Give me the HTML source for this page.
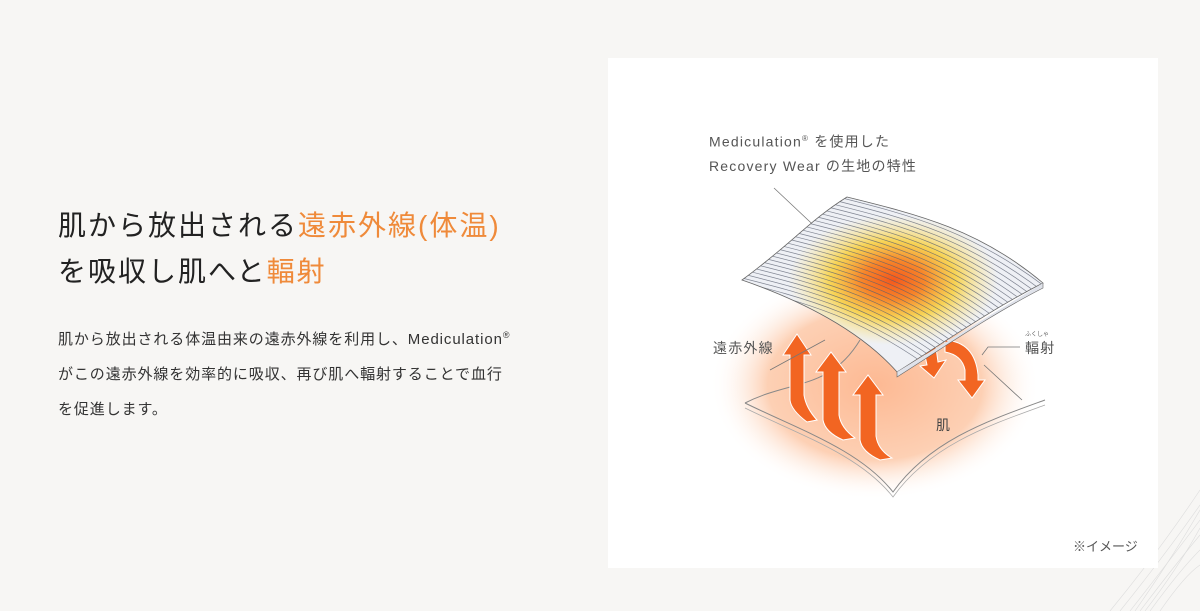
<!DOCTYPE html>
<html><head><meta charset="utf-8"><style>
html,body{margin:0;padding:0}
body{width:1200px;height:611px;background:#f7f6f4;position:relative;overflow:hidden;font-family:"Liberation Sans","Noto Sans CJK JP",sans-serif;color:#222}
.h{position:absolute;left:58px;top:203px;font-size:28px;line-height:46px;letter-spacing:2px;color:#222}
.o{color:#ef8a3a}
.p{position:absolute;left:58px;top:318px;font-size:15px;line-height:35px;color:#333;letter-spacing:0.9px}
.panel{position:absolute;left:608px;top:58px;width:550px;height:510px;background:#fff}
.lab{position:absolute;font-size:14px;color:#555;letter-spacing:1.2px;line-height:24px}
</style></head><body>
<div class="h">肌から放出される<span class="o">遠赤外線(体温)</span><br>を吸収し肌へと<span class="o">輻射</span></div>
<div class="p">肌から放出される体温由来の遠赤外線を利用し、Mediculation<sup style="font-size:9px">®</sup><br>がこの遠赤外線を効率的に吸収、再び肌へ輻射することで血行<br>を促進します。</div>
<svg style="position:absolute;left:1100px;top:480px" width="100" height="131">
<g stroke="#ddd" stroke-width="0.6" fill="none">
<path d="M10 131 Q60 70 100 10"/><path d="M20 131 Q65 75 100 25"/><path d="M30 131 Q70 80 100 40"/><path d="M40 131 Q75 85 100 55"/><path d="M50 131 Q80 90 100 70"/><path d="M60 131 Q85 95 100 85"/><path d="M35 131 Q72 78 100 30"/><path d="M45 131 Q78 88 100 48"/>
</g></svg>
<div class="panel"></div>
<div class="lab" style="left:709px;top:127px">Mediculation<sup style="font-size:8px">®</sup> を使用した<br>Recovery Wear の生地の特性</div>
<svg style="position:absolute;left:0;top:0" width="1200" height="611">
<defs>
<radialGradient id="glow" cx="0.5" cy="0.5" r="0.5">
<stop offset="0" stop-color="#fdb993"/><stop offset="0.65" stop-color="#fdd0b4"/><stop offset="1" stop-color="#fff" stop-opacity="0"/></radialGradient>
<radialGradient id="heat" cx="0.5" cy="0.5" r="0.5">
<stop offset="0" stop-color="#f4581c"/><stop offset="0.3" stop-color="#f7862a"/><stop offset="0.6" stop-color="#f9cf3a" stop-opacity="0.85"/><stop offset="1" stop-color="#fde68a" stop-opacity="0"/></radialGradient>
<clipPath id="fab"><path d="M742 280 C790 245 810 220 847 197 C920 215 980 230 1043 283 C990 310 940 345 897 372 C860 330 800 300 742 280Z"/></clipPath>
</defs>
<line x1="774" y1="188" x2="825" y2="236" stroke="#777" stroke-width="0.8"/>
<ellipse cx="875" cy="385" rx="165" ry="115" fill="url(#glow)"/>
<path d="M745 403 C790 380 830 390 860 340 M1045 400 C990 420 930 440 893 492 C860 450 800 430 745 403" fill="none" stroke="#888" stroke-width="1"/>
<path d="M745 408 C800 435 860 455 893 497 C930 445 990 425 1045 405" fill="none" stroke="#aaa" stroke-width="0.8"/>
<text x="936" y="430" font-size="14" fill="#444" font-family="Liberation Sans,Noto Sans CJK JP,sans-serif">肌</text>
<g fill="#f26522" stroke="#fff" stroke-width="1">
<path d="M790 400 L790 355 L783 355 L797 334 L811 355 L804 355 L804 395 Q806 408 817 420 L807 422 Q791 410 790 400Z"/>
<path d="M823 420 L823 372 L816 372 L831 352 L846 372 L839 372 L839 415 Q841 428 855 438 L843 440 Q825 432 823 420Z"/>
<path d="M860 440 L860 395 L853 395 L868 375 L883 395 L876 395 L876 436 Q878 450 892 458 L880 460 Q862 452 860 440Z"/>
<path d="M922 342 L935 340 L938 362 L946 360 L934 378 L920 366 L927 365Z"/>
<path d="M945 340 Q975 342 978 375 L978 380 L985 380 L972 398 L958 380 L965 380 L965 370 Q962 355 945 352Z"/>
</g>
<g clip-path="url(#fab)">
<rect x="700" y="180" width="380" height="210" fill="#eef0f5"/>
<ellipse cx="893" cy="280" rx="105" ry="65" fill="url(#heat)"/>
<g fill="none" stroke="#5a6070" stroke-width="0.7" opacity="0.75">
<path id="s" d="M835 192 C915 212 980 228 1060 292"/>
<use href="#s" transform="translate(-4,3.2)"/><use href="#s" transform="translate(-8,6.4)"/><use href="#s" transform="translate(-12,9.6)"/><use href="#s" transform="translate(-16,12.8)"/><use href="#s" transform="translate(-20,16)"/><use href="#s" transform="translate(-24,19.2)"/><use href="#s" transform="translate(-28,22.4)"/><use href="#s" transform="translate(-32,25.6)"/><use href="#s" transform="translate(-36,28.8)"/><use href="#s" transform="translate(-40,32)"/><use href="#s" transform="translate(-44,35.2)"/><use href="#s" transform="translate(-48,38.4)"/><use href="#s" transform="translate(-52,41.6)"/><use href="#s" transform="translate(-56,44.8)"/><use href="#s" transform="translate(-60,48)"/><use href="#s" transform="translate(-64,51.2)"/><use href="#s" transform="translate(-68,54.4)"/><use href="#s" transform="translate(-72,57.6)"/><use href="#s" transform="translate(-76,60.8)"/><use href="#s" transform="translate(-80,64)"/><use href="#s" transform="translate(-84,67.2)"/><use href="#s" transform="translate(-88,70.4)"/><use href="#s" transform="translate(-92,73.6)"/><use href="#s" transform="translate(-96,76.8)"/><use href="#s" transform="translate(-100,80)"/><use href="#s" transform="translate(-104,83.2)"/><use href="#s" transform="translate(-108,86.4)"/><use href="#s" transform="translate(-112,89.6)"/>
</g></g>
<path d="M742 280 C790 245 810 220 847 197 C920 215 980 230 1043 283 C990 310 940 345 897 372 C860 330 800 300 742 280Z" fill="none" stroke="#666" stroke-width="0.8"/>
<path d="M1043 283 L1043 288 C990 315 940 350 897 377 L897 372" fill="#dfe2ea" stroke="#666" stroke-width="0.6"/>
<polyline points="770,370 825,340" fill="none" stroke="#777" stroke-width="0.8"/>
<polyline points="1020,347 988,347 982,355" fill="none" stroke="#777" stroke-width="0.8"/>
<line x1="984" y1="365" x2="1022" y2="400" stroke="#777" stroke-width="0.8"/>
<text x="1025" y="336" font-size="6" fill="#666" font-family="Liberation Sans,Noto Sans CJK JP,sans-serif">ふくしゃ</text>
<text x="1073" y="551" font-size="13" fill="#555" font-family="Liberation Sans,Noto Sans CJK JP,sans-serif">※イメージ</text>
</svg>
<div class="lab" style="left:713px;top:336px">遠赤外線</div>
<div class="lab" style="left:1025px;top:336px">輻射</div>
</body></html>
